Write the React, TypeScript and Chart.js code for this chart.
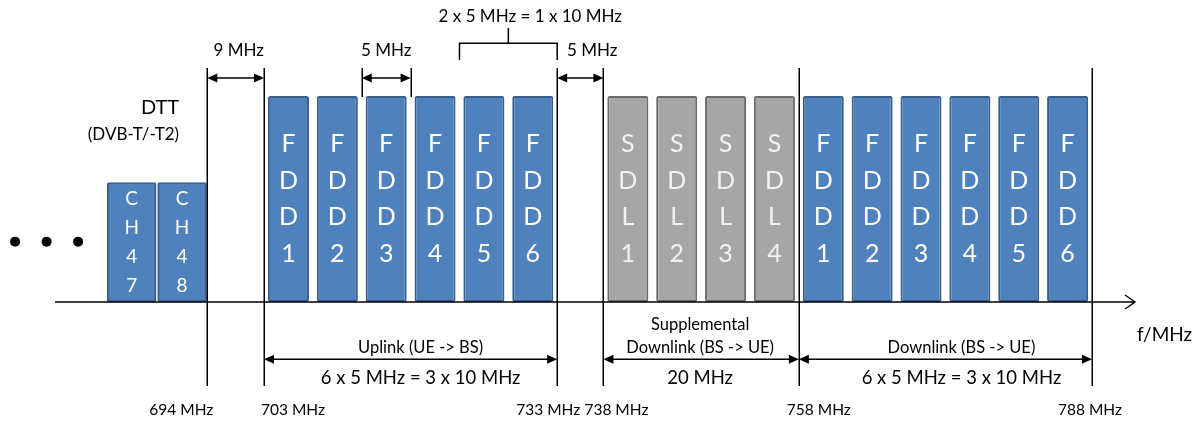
import React, { useEffect, useRef } from 'react';
import { Chart, registerables, LinearScale } from 'chart.js';

// ---------------- data (MHz) ----------------
const dttChannels = ['CH47', 'CH48'];
const dttCentersMHz = [682, 690];
const dttHeight = 5.8;

const uplinkBlocks = ['FDD1', 'FDD2', 'FDD3', 'FDD4', 'FDD5', 'FDD6'];
const uplinkCentersMHz = [705.5, 710.5, 715.5, 720.5, 725.5, 730.5];

const sdlBlocks = ['SDL1', 'SDL2', 'SDL3', 'SDL4'];
const sdlCentersMHz = [740.5, 745.5, 750.5, 755.5];

const downlinkBlocks = ['FDD1', 'FDD2', 'FDD3', 'FDD4', 'FDD5', 'FDD6'];
const downlinkCentersMHz = [760.5, 765.5, 770.5, 775.5, 780.5, 785.5];

const blockHeight = 10;

const ellipsisMHz = [663.5, 668.5, 673.5];
const ellipsisLevel = [2.93, 2.93, 2.93];

const bandEdgesMHz = [694, 703, 733, 738, 758, 788];
const bandEdgeLabels = ['694 MHz', '703 MHz', '733 MHz', '738 MHz', '758 MHz', '788 MHz'];

const topSpanFrom = [694, 713, 733];
const topSpanTo = [703, 718, 738];
const topSpanLabels = ['9 MHz', '5 MHz', '5 MHz'];

const bracketFrom = 723;
const bracketTo = 733;
const bracketLabel = '2 x 5 MHz = 1 x 10 MHz';

const bottomSpanFrom = [703, 738, 758];
const bottomSpanTo = [733, 758, 788];
const bottomSpanTitles = [['Uplink (UE -> BS)'], ['Supplemental', 'Downlink (BS -> UE)'], ['Downlink (BS -> UE)']];
const bottomSpanSizes = ['6 x 5 MHz = 3 x 10 MHz', '20 MHz', '6 x 5 MHz = 3 x 10 MHz'];

const axisLabel = 'f/MHz';
const dttTitle = 'DTT';
const dttSubtitle = '(DVB-T/-T2)';

// ---------------- layout / style ----------------
const FONT = 'Lato, "Open Sans", sans-serif';
const BLUE = '#4f81bd';
const BLUE_EDGE = '#3a5f8b';
const GREY = '#a6a6a6';
const GREY_EDGE = '#6b6b6b';

const L = {
  xMin: 661.11,
  xMax: 799.46,
  yMin: -5.777,
  yMax: 14.66,
  axisFrom: 669.84,
  axisTo: 792.4,
  edgeTop: 11.36,
  edgeBottom: -4.08,
  markerBottom: 9.95,
  topArrowY: 10.87,
  topLabelY: 12.2,
  topLabelDx: [3, 0, 12],
  bracketTop: 12.56,
  bracketSide: 11.75,
  bracketStem: 13.3,
  bracketLabelY: 13.88,
  bracketLabelDx: 22,
  bottomArrowY: -2.78,
  titleY: -2.23,
  titleY2: -1.12,
  sizeY: -3.69,
  bottomDx: [10, -1, 16],
  freqY: -5.24,
  freqDx: [-26, 29, -9, 13, 20, -2],
  fLabelY: -1.58,
  fLabelDx: 2,
  dttTitleY: 9.42,
  dttSubY: 8.11,
};

// ---------------- broken frequency scale ----------------
const REF_MHZ = 703;
const axisBreaks = [
  { from: 600, to: 703, factor: 0.645 },
  { from: 733, to: 738, factor: 0.946 },
];
function warp(f: number) {
  let w = f;
  for (const b of axisBreaks) {
    const c = (v: number) => Math.min(Math.max(v, b.from), b.to);
    w -= (1 - b.factor) * (c(f) - c(REF_MHZ));
  }
  return w;
}
function unwarp(w: number) {
  let lo = 500;
  let hi = 900;
  for (let i = 0; i < 60; i++) {
    const mid = (lo + hi) / 2;
    if (warp(mid) < w) lo = mid;
    else hi = mid;
  }
  return (lo + hi) / 2;
}

class BrokenFrequencyScale extends LinearScale {
  static id = 'brokenFrequency';
  static defaults = LinearScale.defaults;
  getPixelForValue(value: number) {
    const a = warp((this as any).min);
    const b = warp((this as any).max);
    return (this as any).getPixelForDecimal((warp(value) - a) / (b - a));
  }
  getValueForPixel(pixel: number) {
    const a = warp((this as any).min);
    const b = warp((this as any).max);
    return unwarp(a + (this as any).getDecimalForPixel(pixel) * (b - a));
  }
}

Chart.register(...registerables, BrokenFrequencyScale as any);

function drawText(ctx: CanvasRenderingContext2D, s: string, x: number, y: number, size: number, align: CanvasTextAlign = 'center', color = '#000') {
  ctx.font = `${size}px ${FONT}`;
  ctx.fillStyle = color;
  ctx.textAlign = align;
  ctx.textBaseline = 'middle';
  ctx.fillText(s, x, y);
}

function head(ctx: CanvasRenderingContext2D, tipX: number, y: number, dir: number) {
  ctx.beginPath();
  ctx.moveTo(tipX, y);
  ctx.lineTo(tipX + dir * 10, y - 4.5);
  ctx.lineTo(tipX + dir * 10, y + 4.5);
  ctx.closePath();
  ctx.fill();
}

function dimArrow(ctx: CanvasRenderingContext2D, x1: number, x2: number, y: number) {
  ctx.beginPath();
  ctx.moveTo(x1 + 5, y);
  ctx.lineTo(x2 - 5, y);
  ctx.stroke();
  head(ctx, x1, y, 1);
  head(ctx, x2, y, -1);
}

const blockText = [
  { names: dttChannels, size: 19, lh: 29, color: '#ffffff' },
  { names: uplinkBlocks, size: 25, lh: 36.7, color: '#ffffff' },
  { names: sdlBlocks, size: 25, lh: 36.7, color: '#f2f2f2' },
  { names: downlinkBlocks, size: 25, lh: 36.7, color: '#ffffff' },
];

const diagramPlugin = {
  id: 'diagram',
  afterDatasetsDraw(chart: any) {
    const { ctx } = chart;
    const xs = chart.scales.x;
    const ys = chart.scales.y;
    const X = (f: number) => xs.getPixelForValue(f);
    const Y = (v: number) => ys.getPixelForValue(v);
    ctx.save();

    // letters inside blocks
    blockText.forEach((bt, i) => {
      const meta = chart.getDatasetMeta(i);
      meta.data.forEach((el: any, j: number) => {
        const p = el.getProps(['x', 'y', 'base'], true);
        const chars = bt.names[j].split('');
        const mid = (p.y + p.base) / 2;
        chars.forEach((ch: string, k: number) => {
          drawText(ctx, ch, p.x, mid + (k - (chars.length - 1) / 2) * bt.lh, bt.size, 'center', bt.color);
        });
      });
    });

    ctx.strokeStyle = '#000';
    ctx.fillStyle = '#000';
    ctx.lineWidth = 1.5;

    // frequency axis with open arrow
    const ay = Y(0);
    const ax2 = X(L.axisTo);
    ctx.beginPath();
    ctx.moveTo(X(L.axisFrom), ay);
    ctx.lineTo(ax2, ay);
    ctx.moveTo(ax2 - 10, ay - 7);
    ctx.lineTo(ax2, ay);
    ctx.lineTo(ax2 - 10, ay + 7);
    ctx.stroke();
    drawText(ctx, axisLabel, ax2 + L.fLabelDx, Y(L.fLabelY), 19, 'left');

    // band edges
    bandEdgesMHz.forEach((f, i) => {
      const px = Math.round(X(f)) + 0.25;
      ctx.beginPath();
      ctx.moveTo(px, Y(L.edgeTop));
      ctx.lineTo(px, Y(L.edgeBottom));
      ctx.stroke();
      drawText(ctx, bandEdgeLabels[i], X(f) + L.freqDx[i], Y(L.freqY), 15.5);
    });

    // top spans
    topSpanFrom.forEach((f, i) => {
      const x1 = X(f);
      const x2 = X(topSpanTo[i]);
      [f, topSpanTo[i]].forEach((e) => {
        if (bandEdgesMHz.indexOf(e) < 0) {
          const px = Math.round(X(e)) + 0.25;
          ctx.beginPath();
          ctx.moveTo(px, Y(L.edgeTop));
          ctx.lineTo(px, Y(L.markerBottom));
          ctx.stroke();
        }
      });
      ctx.fillStyle = '#000';
      dimArrow(ctx, x1, x2, Y(L.topArrowY));
      drawText(ctx, topSpanLabels[i], (x1 + x2) / 2 + L.topLabelDx[i], Y(L.topLabelY), 17);
    });

    // bracket
    {
      const x1 = X(bracketFrom);
      const x2 = X(bracketTo);
      const xm = X((bracketFrom + bracketTo) / 2);
      ctx.beginPath();
      ctx.moveTo(x1, Y(L.bracketSide));
      ctx.lineTo(x1, Y(L.bracketTop));
      ctx.lineTo(x2, Y(L.bracketTop));
      ctx.lineTo(x2, Y(L.bracketSide));
      ctx.moveTo(xm, Y(L.bracketTop));
      ctx.lineTo(xm, Y(L.bracketStem));
      ctx.stroke();
      drawText(ctx, bracketLabel, xm + L.bracketLabelDx, Y(L.bracketLabelY), 17);
    }

    // bottom spans
    bottomSpanFrom.forEach((f, i) => {
      const x1 = X(f);
      const x2 = X(bottomSpanTo[i]);
      ctx.fillStyle = '#000';
      dimArrow(ctx, x1, x2, Y(L.bottomArrowY));
      const cx = (x1 + x2) / 2 + L.bottomDx[i];
      const titles = bottomSpanTitles[i];
      if (titles.length === 2) {
        drawText(ctx, titles[0], cx, Y(L.titleY2), 16.5);
        drawText(ctx, titles[1], cx, Y(L.titleY), 16.5);
      } else {
        drawText(ctx, titles[0], cx, Y(L.titleY), 16.5);
      }
      drawText(ctx, bottomSpanSizes[i], cx, Y(L.sizeY), 18.5);
    });

    // DTT title
    const dttRight = X(dttCentersMHz[1]) - 3;
    drawText(ctx, dttTitle, dttRight, Y(L.dttTitleY), 20, 'right');
    drawText(ctx, dttSubtitle, dttRight, Y(L.dttSubY), 17, 'right');

    ctx.restore();
  },
};

function blockDataset(label: string, centers: number[], height: number, fill: string, edge: string, barPct: number) {
  return {
    type: 'bar' as const,
    label,
    data: centers.map((x) => ({ x, y: height })),
    backgroundColor: fill,
    borderColor: edge,
    borderWidth: 2,
    borderSkipped: false,
    borderRadius: 2,
    grouped: false,
    categoryPercentage: 1,
    barPercentage: barPct,
  };
}

export default function App() {
  const ref = useRef<HTMLCanvasElement | null>(null);
  useEffect(() => {
    if (!ref.current) return;
    const chart = new Chart(ref.current, {
      type: 'bar',
      data: {
        datasets: [
          blockDataset('DTT', dttCentersMHz, dttHeight, BLUE, BLUE_EDGE, 1),
          blockDataset('Uplink', uplinkCentersMHz, blockHeight, BLUE, BLUE_EDGE, 0.84),
          blockDataset('SDL', sdlCentersMHz, blockHeight, GREY, GREY_EDGE, 0.84),
          blockDataset('Downlink', downlinkCentersMHz, blockHeight, BLUE, BLUE_EDGE, 0.84),
          {
            type: 'scatter' as const,
            label: 'more channels',
            data: ellipsisMHz.map((x, i) => ({ x, y: ellipsisLevel[i] })),
            pointRadius: 5,
            pointHoverRadius: 5,
            pointBackgroundColor: '#000',
            pointBorderWidth: 0,
            showLine: false,
          } as any,
        ],
      },
      options: {
        animation: false,
        responsive: false,
        maintainAspectRatio: false,
        events: [],
        layout: { padding: 0, autoPadding: false },
        plugins: { legend: { display: false }, tooltip: { enabled: false }, title: { display: false } },
        scales: {
          x: {
            type: 'brokenFrequency' as any,
            display: false,
            offset: false,
            min: L.xMin,
            max: L.xMax,
            ticks: { stepSize: 1000 },
          },
          y: { type: 'linear', display: false, min: L.yMin, max: L.yMax },
        },
      } as any,
      plugins: [diagramPlugin],
    });
    return () => chart.destroy();
  }, []);
  return (
    <div style={{ position: 'fixed', left: 0, top: 0, width: 1204, height: 421, background: '#fff' }}>
      <canvas ref={ref} width={1204} height={421} style={{ width: 1204, height: 421, display: 'block' }} />
    </div>
  );
}
